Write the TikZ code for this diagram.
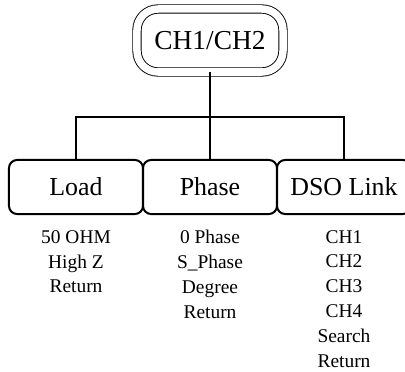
\documentclass[tikz,border=0pt]{standalone}
\usepackage{fontspec}
\setmainfont{Liberation Serif}
\usetikzlibrary{positioning}

\tikzset{
  rootbox/.style={draw, double, line width=0.9bp, double distance=7.5bp,
    rounded corners=21bp, minimum width=146bp, minimum height=63bp,
    inner sep=0pt, font=\fontsize{27.5}{32}\selectfont},
  menubox/.style={draw, line width=2bp, rounded corners=8bp,
    minimum width=134bp, minimum height=54bp, inner sep=0pt,
    font=\fontsize{26}{30}\selectfont},
  itemlist/.style={align=center, inner sep=0pt,
    font=\fontsize{19.5}{25}\selectfont},
  link/.style={line width=2bp}
}

\begin{document}
\begin{tikzpicture}[x=1bp, y=1bp]
\clip (0,0) rectangle (405,372);

% -- root menu --------------------------------------------------
\node[rootbox] (chan) at (210,331.5) {CH1/CH2};

% -- sub menus --------------------------------------------------
\node[menubox] (load)  at (76,185)  {Load};
\node[menubox] (phase) at (210,185) {Phase};
\node[menubox] (dso)   at (344,185) {DSO Link};

% -- tree lines -------------------------------------------------
\coordinate (bus) at (210,255);
\draw[link] (chan.south) -- (bus);
\draw[link] (load.north) |- (bus) -| (dso.north);
\draw[link] (bus) -- (phase.north);

% -- option lists -----------------------------------------------
\node[itemlist, below=15bp of load]  (loadopts)  {50 OHM\\High Z\\Return};
\node[itemlist, below=15bp of phase] (phaseopts) {0 Phase\\S\_Phase\\Degree\\Return};
\node[itemlist, below=15bp of dso]   (dsoopts)   {CH1\\CH2\\CH3\\CH4\\Search\\Return};

\end{tikzpicture}
\end{document}
